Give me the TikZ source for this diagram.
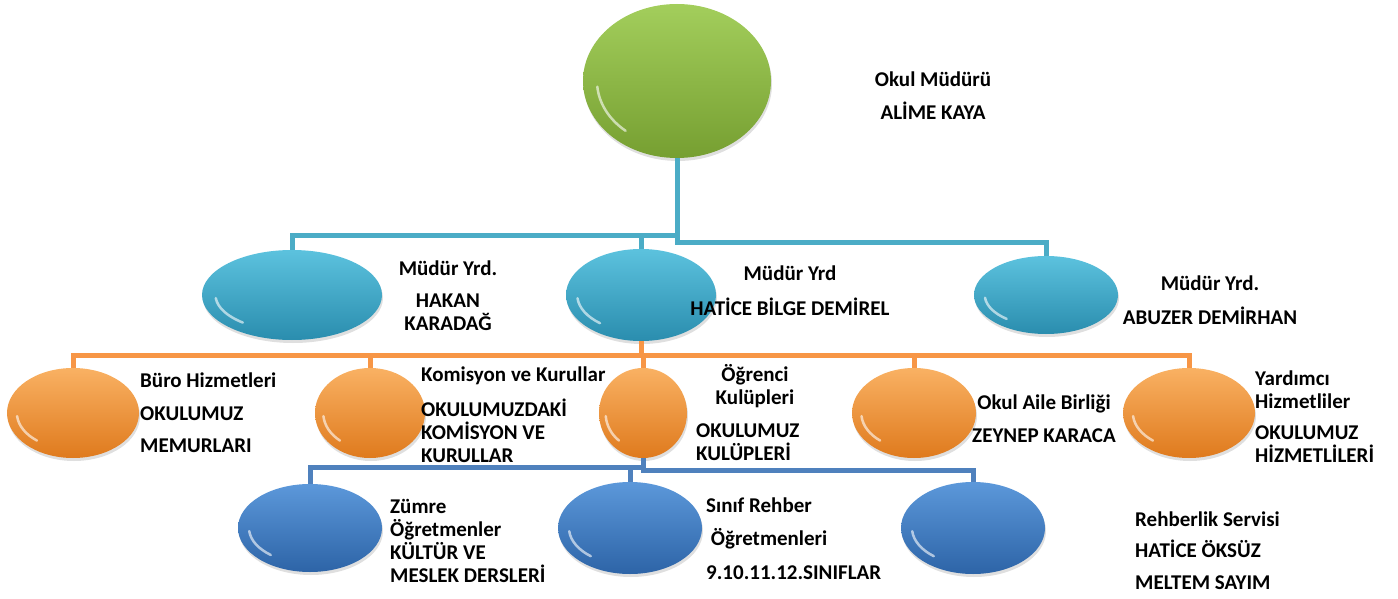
\documentclass[tikz,border=0pt]{standalone}
\usepackage{fontspec}
\setmainfont{Carlito}
\usetikzlibrary{shapes.geometric, shadows}

\definecolor{boss top}{HTML}{A3CE5C}
\definecolor{boss mid}{HTML}{8DBB43}
\definecolor{boss bot}{HTML}{769F31}
\definecolor{cyan top}{HTML}{5CC2DE}
\definecolor{cyan mid}{HTML}{3AABCC}
\definecolor{cyan bot}{HTML}{2A8DAE}
\definecolor{orange top}{HTML}{F9B163}
\definecolor{orange mid}{HTML}{F49536}
\definecolor{orange bot}{HTML}{DF7A1D}
\definecolor{blue top}{HTML}{5C98DA}
\definecolor{blue mid}{HTML}{3E7EC6}
\definecolor{blue bot}{HTML}{2D64A7}
\definecolor{cyan line}{HTML}{4BACC6}
\definecolor{orange line}{HTML}{F79646}
\definecolor{blue line}{HTML}{4F81BD}

\begin{document}
\begin{tikzpicture}[x=1pt, y=-1pt,
		every bubble/.style={ellipse, inner sep=0pt,
			drop shadow={opacity=0.25, shadow xshift=1pt, shadow yshift=-3pt}},
		boss bubble/.style={top color=boss top, middle color=boss mid, bottom color=boss bot},
		cyan bubble/.style={top color=cyan top, middle color=cyan mid, bottom color=cyan bot},
		orange bubble/.style={top color=orange top, middle color=orange mid, bottom color=orange bot},
		blue bubble/.style={top color=blue top, middle color=blue mid, bottom color=blue bot},
		gloss/.style={white, opacity=0.6, line width=2.5pt, line cap=round},
		every text/.style={font=\fontsize{21}{23}\selectfont\bfseries, inner sep=0pt},
		link/.style={line width=5pt}]
		\useasboundingbox (0,0) rectangle (1398,599);

		\coordinate (bus-top-l) at (0,235);
		\coordinate (bus-top-r) at (0,242);
		\coordinate (bus-mid) at (0,355);
		\coordinate (bus-low-l) at (0,467);
		\coordinate (bus-low-r) at (0,470);

		\node [every bubble/.try, boss bubble, minimum width=188, minimum height=154] (boss) at (677,81) {};
		\draw [gloss] (677,81) ++(175:80 and 65) arc [start angle=175, end angle=130, x radius=80, y radius=65];

		\foreach \n/\x/\rx/\ry in {yrd1/292/90/45, yrd2/641/75/46, yrd3/1046/72/39} {
			\node [every bubble/.try, cyan bubble, minimum width=2*\rx, minimum height=2*\ry] (\n) at (\x,295) {};
			\draw [gloss] (\x,295) ++(175:{0.85*\rx} and {0.8*\ry}) arc [start angle=175, end angle=130, x radius={0.85*\rx}, y radius={0.8*\ry}];
		};
		\foreach \n/\x/\rx in {org1/73/66, org2/370/55, org3/643/44, org4/914/62, org5/1189/66} {
			\node [every bubble/.try, orange bubble, minimum width=2*\rx, minimum height=90] (\n) at (\x,413) {};
			\draw [gloss] (\x,413) ++(175:{0.85*\rx} and 36) arc [start angle=175, end angle=130, x radius={0.85*\rx}, y radius=36];
		};
		\foreach \n/\x/\ry in {blu1/310/44, blu2/630/46, blu3/973/46} {
			\node [every bubble/.try, blue bubble, minimum width=144, minimum height=2*\ry] (\n) at (\x,528) {};
			\draw [gloss] (\x,528) ++(175:61 and {0.8*\ry}) arc [start angle=175, end angle=130, x radius=61, y radius={0.8*\ry}];
		};

		\draw [link, cyan line] (boss.south) -- (boss.south |- bus-top-r) -| (yrd3.north);
		\draw [link, cyan line] (boss.south |- bus-top-l) -| (yrd1.north);
		\draw [link, cyan line] (yrd2.north) -- (yrd2.north |- bus-top-l);

		\draw [link, orange line] (yrd2.south) -- (yrd2.south |- bus-mid);
		\draw [link, orange line] (org1.north) |- (bus-mid -| org5.north) -- (org5.north);
		\foreach \n in {org2, org3, org4}
			\draw [link, orange line] (\n.north) -- (\n.north |- bus-mid);

		\draw [link, blue line] (org3.south) -- (org3.south |- bus-low-r) -| (blu3.north);
		\draw [link, blue line] (org3.south |- bus-low-l) -| (blu1.north);
		\draw [link, blue line] (blu2.north) -- (blu2.north |- bus-low-l);

		\node [every text/.try, anchor=base, align=center] (boss-txt) at (933,120) {Okul Müdürü\\[10pt]ALİME KAYA};
		\node [every text/.try, anchor=base, align=center] (yrd1-txt) at (448,330) {Müdür Yrd.\\[9pt]HAKAN\\KARADAĞ};
		\node [every text/.try, anchor=base, align=center] (yrd2-txt) at (790,315) {Müdür Yrd\\[12pt]HATİCE BİLGE DEMİREL};
		\node [every text/.try, anchor=base, align=center] (yrd3-txt) at (1210,324) {Müdür Yrd.\\[11pt]ABUZER DEMİRHAN};

		\node [every text/.try, anchor=base west, align=left] (org1-txt) at (140,452) {Büro Hizmetleri\\[10pt]OKULUMUZ\\[9pt]MEMURLARI};
		\node [every text/.try, anchor=base west, align=left] (org2-txt) at (421,462) {Komisyon ve Kurullar\\[12pt]OKULUMUZDAKİ\\KOMİSYON VE\\KURULLAR};
		\node [every text/.try, anchor=base, align=center] (org3-txt) at (755,404) {Öğrenci\\Kulüpleri};
		\node [every text/.try, anchor=base west, align=left] (org3-sub) at (696,460) {OKULUMUZ\\KULÜPLERİ};
		\node [every text/.try, anchor=base, align=center] (org4-txt) at (1044,442) {Okul Aile Birliği\\[10pt]ZEYNEP KARACA};
		\node [every text/.try, anchor=base west, align=left] (org5-txt) at (1255,462) {Yardımcı\\Hizmetliler\\[8pt]OKULUMUZ\\HİZMETLİLERİ};

		\node [every text/.try, anchor=base west, align=left] (blu1-txt) at (390,582) {Zümre\\Öğretmenler\\KÜLTÜR VE\\MESLEK DERSLERİ};
		\node [every text/.try, anchor=base west, align=left] (blu2-txt) at (706,579) {Sınıf Rehber\\[10pt]\ Öğretmenleri\\[11pt]9.10.11.12.SINIFLAR};
		\node [every text/.try, anchor=base west, align=left] (blu3-txt) at (1135,589) {Rehberlik Servisi\\[8pt]HATİCE ÖKSÜZ\\[9pt]MELTEM SAYIM};

	\end{tikzpicture}
\end{document}
